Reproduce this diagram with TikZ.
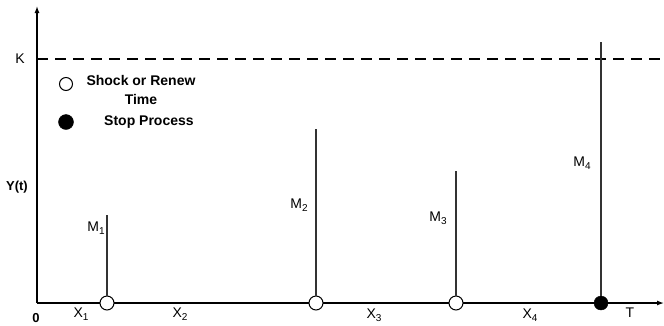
\documentclass[tikz,border=0pt]{standalone}
\usepackage{fontspec}
\setmainfont{Liberation Sans}
\usetikzlibrary{arrows.meta}
\newcommand\sbx[1]{\raisebox{-0.35ex}{\fontsize{10}{10}\selectfont #1}}
\begin{document}
\begin{tikzpicture}[x=1pt,y=-1pt,
  ax/.style={line width=1.3pt,-{Latex[length=7pt,width=5pt]}},
  spike/.style={line width=1.3pt,draw=black!80},
  opendot/.style={circle,draw=black,fill=white,line width=1pt,minimum size=14pt,inner sep=0pt},
  fulldot/.style={circle,draw=black,fill=black,minimum size=14pt,inner sep=0pt},
  lab/.style={font=\fontsize{14}{16}\selectfont,inner sep=0pt},
  blab/.style={font=\bfseries\fontsize{13}{16}\selectfont,inner sep=0pt},
  leg/.style={font=\bfseries\fontsize{14}{19}\selectfont,inner sep=0pt,align=center}]
\useasboundingbox (0,0) rectangle (664,325);
\coordinate (O) at (37,303);
\coordinate (Ytop) at (37,6);
\coordinate (Xend) at (664,303);
\coordinate (Kl) at (37,59);
\coordinate (Kr) at (664,59);
\draw[line width=1.4pt,dash pattern=on 11pt off 7pt] (Kl) -- (Kr);
\draw[ax] (O) -- (Ytop);
\draw[ax] (O) -- (Xend);
% spikes
\coordinate (t1) at (107,215);
\coordinate (t2) at (316,129);
\coordinate (t3) at (456,171);
\coordinate (t4) at (601,42);
\node[opendot] (c1) at (107,303) {};
\node[opendot] (c2) at (316,303) {};
\node[opendot] (c3) at (456,303) {};
\node[fulldot] (c4) at (601,303) {};
\draw[spike] (c1) -- (t1);
\draw[spike] (c2) -- (t2);
\draw[spike] (c3) -- (t3);
\draw[spike] (c4) -- (t4);
% labels
\node[lab] (K) at (20,59) {K};
\node[blab] (Y) at (17,187) {Y(t)};
\node[blab] (zero) at (36,318) {0};
\node[lab] (m1) at (96,228) {M\sbx{1}};
\node[lab] (m2) at (299,205) {M\sbx{2}};
\node[lab] (m3) at (438,218) {M\sbx{3}};
\node[lab] (m4) at (582,163) {M\sbx{4}};
\node[lab] (x1) at (81,314) {X\sbx{1}};
\node[lab] (x2) at (180,314) {X\sbx{2}};
\node[lab] (x3) at (374,315) {X\sbx{3}};
\node[lab] (x4) at (530,315) {X\sbx{4}};
\node[lab] (T) at (630,313) {T};
% legend
\node[opendot,minimum size=13pt] (lo) at (66,84) {};
\node[fulldot,minimum size=15pt] (lf) at (66,122) {};
\node[leg] (lt1) at (141,90) {Shock or Renew\\Time};
\node[leg,anchor=west] (lt2) at (104,122) {Stop Process};
\end{tikzpicture}
\end{document}
